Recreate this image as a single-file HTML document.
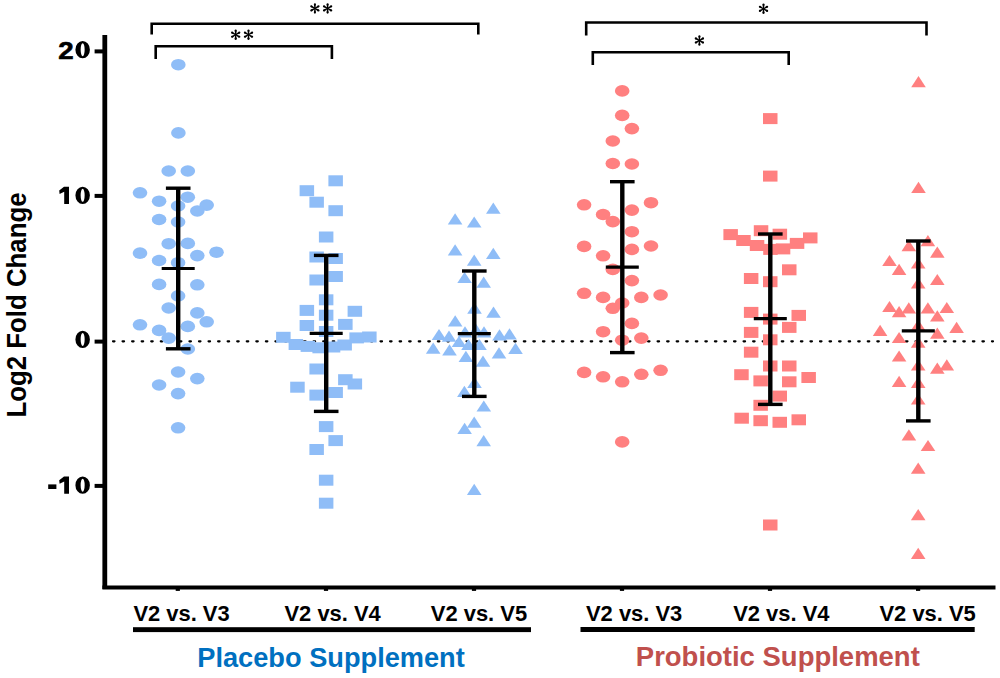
<!DOCTYPE html>
<html><head><meta charset="utf-8"><style>
html,body{margin:0;padding:0;background:#fff;}
svg{display:block;}
text{font-family:"Liberation Sans",sans-serif;font-weight:bold;}
.tk{font-size:24.3px;}
.yl{font-size:25.6px;}
.xl{font-size:21.8px;}
.gl{font-size:27px;}
</style></head><body>
<svg width="1000" height="678" viewBox="0 0 1000 678">
<line x1="113.0" y1="341.3" x2="993.0" y2="341.3" stroke="#000" stroke-width="2.2" stroke-linecap="round" stroke-dasharray="1.5 8.054"/>
<ellipse cx="178.3" cy="64.7" rx="7.3" ry="5.8" fill="#8fbdf7"/>
<ellipse cx="178.4" cy="132.9" rx="7.3" ry="5.8" fill="#8fbdf7"/>
<ellipse cx="168.7" cy="171.0" rx="7.3" ry="5.8" fill="#8fbdf7"/>
<ellipse cx="187.8" cy="171.0" rx="7.3" ry="5.8" fill="#8fbdf7"/>
<ellipse cx="140.0" cy="192.8" rx="7.3" ry="5.8" fill="#8fbdf7"/>
<ellipse cx="159.1" cy="201.2" rx="7.3" ry="5.8" fill="#8fbdf7"/>
<ellipse cx="187.8" cy="197.2" rx="7.3" ry="5.8" fill="#8fbdf7"/>
<ellipse cx="178.1" cy="206.0" rx="7.3" ry="5.8" fill="#8fbdf7"/>
<ellipse cx="206.7" cy="205.1" rx="7.3" ry="5.8" fill="#8fbdf7"/>
<ellipse cx="197.3" cy="211.0" rx="7.3" ry="5.8" fill="#8fbdf7"/>
<ellipse cx="159.1" cy="219.5" rx="7.3" ry="5.8" fill="#8fbdf7"/>
<ellipse cx="178.1" cy="222.0" rx="7.3" ry="5.8" fill="#8fbdf7"/>
<ellipse cx="168.7" cy="243.7" rx="7.3" ry="5.8" fill="#8fbdf7"/>
<ellipse cx="187.8" cy="243.4" rx="7.3" ry="5.8" fill="#8fbdf7"/>
<ellipse cx="140.0" cy="253.1" rx="7.3" ry="5.8" fill="#8fbdf7"/>
<ellipse cx="216.5" cy="252.2" rx="7.3" ry="5.8" fill="#8fbdf7"/>
<ellipse cx="197.3" cy="255.6" rx="7.3" ry="5.8" fill="#8fbdf7"/>
<ellipse cx="159.1" cy="260.5" rx="7.3" ry="5.8" fill="#8fbdf7"/>
<ellipse cx="178.1" cy="262.7" rx="7.3" ry="5.8" fill="#8fbdf7"/>
<ellipse cx="159.1" cy="284.4" rx="7.3" ry="5.8" fill="#8fbdf7"/>
<ellipse cx="197.3" cy="284.8" rx="7.3" ry="5.8" fill="#8fbdf7"/>
<ellipse cx="178.1" cy="295.9" rx="7.3" ry="5.8" fill="#8fbdf7"/>
<ellipse cx="168.7" cy="308.0" rx="7.3" ry="5.8" fill="#8fbdf7"/>
<ellipse cx="197.3" cy="312.9" rx="7.3" ry="5.8" fill="#8fbdf7"/>
<ellipse cx="206.7" cy="321.8" rx="7.3" ry="5.8" fill="#8fbdf7"/>
<ellipse cx="140.0" cy="324.8" rx="7.3" ry="5.8" fill="#8fbdf7"/>
<ellipse cx="187.8" cy="326.4" rx="7.3" ry="5.8" fill="#8fbdf7"/>
<ellipse cx="159.1" cy="330.4" rx="7.3" ry="5.8" fill="#8fbdf7"/>
<ellipse cx="168.7" cy="338.1" rx="7.3" ry="5.8" fill="#8fbdf7"/>
<ellipse cx="187.8" cy="349.0" rx="7.3" ry="5.8" fill="#8fbdf7"/>
<ellipse cx="178.1" cy="372.0" rx="7.3" ry="5.8" fill="#8fbdf7"/>
<ellipse cx="197.3" cy="378.6" rx="7.3" ry="5.8" fill="#8fbdf7"/>
<ellipse cx="159.1" cy="385.0" rx="7.3" ry="5.8" fill="#8fbdf7"/>
<ellipse cx="178.1" cy="393.6" rx="7.3" ry="5.8" fill="#8fbdf7"/>
<ellipse cx="178.1" cy="427.8" rx="7.3" ry="5.8" fill="#8fbdf7"/>
<rect x="328.4" y="175.3" width="14.5" height="11.0" fill="#8fbdf7"/>
<rect x="299.6" y="185.2" width="14.5" height="11.0" fill="#8fbdf7"/>
<rect x="309.4" y="196.7" width="14.5" height="11.0" fill="#8fbdf7"/>
<rect x="328.4" y="205.2" width="14.5" height="11.0" fill="#8fbdf7"/>
<rect x="318.9" y="231.5" width="14.5" height="11.0" fill="#8fbdf7"/>
<rect x="309.4" y="251.5" width="14.5" height="11.0" fill="#8fbdf7"/>
<rect x="328.4" y="253.0" width="14.5" height="11.0" fill="#8fbdf7"/>
<rect x="328.4" y="271.0" width="14.5" height="11.0" fill="#8fbdf7"/>
<rect x="309.4" y="274.5" width="14.5" height="11.0" fill="#8fbdf7"/>
<rect x="318.9" y="294.3" width="14.5" height="11.0" fill="#8fbdf7"/>
<rect x="299.6" y="304.9" width="14.5" height="11.0" fill="#8fbdf7"/>
<rect x="347.6" y="305.8" width="14.5" height="11.0" fill="#8fbdf7"/>
<rect x="318.9" y="309.7" width="14.5" height="11.0" fill="#8fbdf7"/>
<rect x="299.6" y="320.0" width="14.5" height="11.0" fill="#8fbdf7"/>
<rect x="338.1" y="318.9" width="14.5" height="11.0" fill="#8fbdf7"/>
<rect x="318.9" y="326.0" width="14.5" height="11.0" fill="#8fbdf7"/>
<rect x="276.1" y="331.8" width="14.5" height="11.0" fill="#8fbdf7"/>
<rect x="288.6" y="339.0" width="14.5" height="11.0" fill="#8fbdf7"/>
<rect x="300.6" y="340.9" width="14.5" height="11.0" fill="#8fbdf7"/>
<rect x="312.4" y="342.3" width="14.5" height="11.0" fill="#8fbdf7"/>
<rect x="325.8" y="341.5" width="14.5" height="11.0" fill="#8fbdf7"/>
<rect x="337.4" y="339.5" width="14.5" height="11.0" fill="#8fbdf7"/>
<rect x="349.4" y="332.4" width="14.5" height="11.0" fill="#8fbdf7"/>
<rect x="362.1" y="331.5" width="14.5" height="11.0" fill="#8fbdf7"/>
<rect x="309.4" y="363.5" width="14.5" height="11.0" fill="#8fbdf7"/>
<rect x="338.1" y="374.2" width="14.5" height="11.0" fill="#8fbdf7"/>
<rect x="347.6" y="378.5" width="14.5" height="11.0" fill="#8fbdf7"/>
<rect x="290.2" y="381.7" width="14.5" height="11.0" fill="#8fbdf7"/>
<rect x="328.4" y="387.0" width="14.5" height="11.0" fill="#8fbdf7"/>
<rect x="309.4" y="389.6" width="14.5" height="11.0" fill="#8fbdf7"/>
<rect x="318.9" y="421.1" width="14.5" height="11.0" fill="#8fbdf7"/>
<rect x="328.4" y="435.1" width="14.5" height="11.0" fill="#8fbdf7"/>
<rect x="309.4" y="444.0" width="14.5" height="11.0" fill="#8fbdf7"/>
<rect x="318.9" y="474.7" width="14.5" height="11.0" fill="#8fbdf7"/>
<rect x="318.9" y="497.7" width="14.5" height="11.0" fill="#8fbdf7"/>
<polygon points="493.3,202.5 500.6,213.7 486.0,213.7" fill="#8fbdf7"/>
<polygon points="455.1,213.3 462.4,224.5 447.8,224.5" fill="#8fbdf7"/>
<polygon points="474.2,216.4 481.5,227.6 466.9,227.6" fill="#8fbdf7"/>
<polygon points="455.1,244.3 462.4,255.5 447.8,255.5" fill="#8fbdf7"/>
<polygon points="493.3,247.8 500.6,259.0 486.0,259.0" fill="#8fbdf7"/>
<polygon points="474.2,254.5 481.5,265.7 466.9,265.7" fill="#8fbdf7"/>
<polygon points="464.6,271.9 471.9,283.1 457.3,283.1" fill="#8fbdf7"/>
<polygon points="483.7,276.5 491.0,287.7 476.4,287.7" fill="#8fbdf7"/>
<polygon points="474.5,302.6 481.8,313.8 467.2,313.8" fill="#8fbdf7"/>
<polygon points="493.5,306.5 500.8,317.7 486.2,317.7" fill="#8fbdf7"/>
<polygon points="455.2,315.2 462.5,326.4 447.9,326.4" fill="#8fbdf7"/>
<polygon points="439.0,328.9 446.3,340.1 431.7,340.1" fill="#8fbdf7"/>
<polygon points="449.0,330.6 456.3,341.8 441.7,341.8" fill="#8fbdf7"/>
<polygon points="465.0,326.2 472.3,337.4 457.7,337.4" fill="#8fbdf7"/>
<polygon points="476.0,323.7 483.3,334.9 468.7,334.9" fill="#8fbdf7"/>
<polygon points="484.0,326.2 491.3,337.4 476.7,337.4" fill="#8fbdf7"/>
<polygon points="499.5,329.2 506.8,340.4 492.2,340.4" fill="#8fbdf7"/>
<polygon points="509.5,328.2 516.8,339.4 502.2,339.4" fill="#8fbdf7"/>
<polygon points="433.2,342.6 440.5,353.8 425.9,353.8" fill="#8fbdf7"/>
<polygon points="449.5,344.2 456.8,355.4 442.2,355.4" fill="#8fbdf7"/>
<polygon points="459.0,335.9 466.3,347.1 451.7,347.1" fill="#8fbdf7"/>
<polygon points="468.5,338.9 475.8,350.1 461.2,350.1" fill="#8fbdf7"/>
<polygon points="479.5,338.9 486.8,350.1 472.2,350.1" fill="#8fbdf7"/>
<polygon points="499.0,347.2 506.3,358.4 491.7,358.4" fill="#8fbdf7"/>
<polygon points="515.5,342.8 522.8,354.0 508.2,354.0" fill="#8fbdf7"/>
<polygon points="465.9,350.8 473.2,362.0 458.6,362.0" fill="#8fbdf7"/>
<polygon points="483.0,355.6 490.3,366.8 475.7,366.8" fill="#8fbdf7"/>
<polygon points="474.5,376.9 481.8,388.1 467.2,388.1" fill="#8fbdf7"/>
<polygon points="464.4,385.7 471.7,396.9 457.1,396.9" fill="#8fbdf7"/>
<polygon points="483.8,400.4 491.1,411.6 476.5,411.6" fill="#8fbdf7"/>
<polygon points="474.2,416.5 481.5,427.7 466.9,427.7" fill="#8fbdf7"/>
<polygon points="464.6,422.7 471.9,433.9 457.3,433.9" fill="#8fbdf7"/>
<polygon points="483.7,435.1 491.0,446.3 476.4,446.3" fill="#8fbdf7"/>
<polygon points="474.2,483.8 481.5,495.0 466.9,495.0" fill="#8fbdf7"/>
<ellipse cx="622.2" cy="90.9" rx="7.3" ry="5.8" fill="#ff8080"/>
<ellipse cx="622.2" cy="115.4" rx="7.3" ry="5.8" fill="#ff8080"/>
<ellipse cx="631.9" cy="128.6" rx="7.3" ry="5.8" fill="#ff8080"/>
<ellipse cx="612.8" cy="141.0" rx="7.3" ry="5.8" fill="#ff8080"/>
<ellipse cx="612.8" cy="163.5" rx="7.3" ry="5.8" fill="#ff8080"/>
<ellipse cx="631.9" cy="164.0" rx="7.3" ry="5.8" fill="#ff8080"/>
<ellipse cx="651.0" cy="202.7" rx="7.3" ry="5.8" fill="#ff8080"/>
<ellipse cx="584.1" cy="204.8" rx="7.3" ry="5.8" fill="#ff8080"/>
<ellipse cx="631.9" cy="210.1" rx="7.3" ry="5.8" fill="#ff8080"/>
<ellipse cx="603.1" cy="214.5" rx="7.3" ry="5.8" fill="#ff8080"/>
<ellipse cx="612.8" cy="221.6" rx="7.3" ry="5.8" fill="#ff8080"/>
<ellipse cx="631.9" cy="231.7" rx="7.3" ry="5.8" fill="#ff8080"/>
<ellipse cx="651.0" cy="246.0" rx="7.3" ry="5.8" fill="#ff8080"/>
<ellipse cx="584.1" cy="246.4" rx="7.3" ry="5.8" fill="#ff8080"/>
<ellipse cx="631.9" cy="249.4" rx="7.3" ry="5.8" fill="#ff8080"/>
<ellipse cx="603.1" cy="255.8" rx="7.3" ry="5.8" fill="#ff8080"/>
<ellipse cx="612.8" cy="269.4" rx="7.3" ry="5.8" fill="#ff8080"/>
<ellipse cx="631.9" cy="280.6" rx="7.3" ry="5.8" fill="#ff8080"/>
<ellipse cx="584.1" cy="293.3" rx="7.3" ry="5.8" fill="#ff8080"/>
<ellipse cx="660.6" cy="295.0" rx="7.3" ry="5.8" fill="#ff8080"/>
<ellipse cx="603.1" cy="297.4" rx="7.3" ry="5.8" fill="#ff8080"/>
<ellipse cx="641.3" cy="297.4" rx="7.3" ry="5.8" fill="#ff8080"/>
<ellipse cx="622.2" cy="303.0" rx="7.3" ry="5.8" fill="#ff8080"/>
<ellipse cx="612.8" cy="308.3" rx="7.3" ry="5.8" fill="#ff8080"/>
<ellipse cx="631.9" cy="323.4" rx="7.3" ry="5.8" fill="#ff8080"/>
<ellipse cx="603.1" cy="331.7" rx="7.3" ry="5.8" fill="#ff8080"/>
<ellipse cx="641.3" cy="338.1" rx="7.3" ry="5.8" fill="#ff8080"/>
<ellipse cx="622.2" cy="340.2" rx="7.3" ry="5.8" fill="#ff8080"/>
<ellipse cx="660.6" cy="370.3" rx="7.3" ry="5.8" fill="#ff8080"/>
<ellipse cx="584.1" cy="372.4" rx="7.3" ry="5.8" fill="#ff8080"/>
<ellipse cx="641.3" cy="374.3" rx="7.3" ry="5.8" fill="#ff8080"/>
<ellipse cx="603.1" cy="376.8" rx="7.3" ry="5.8" fill="#ff8080"/>
<ellipse cx="622.2" cy="381.8" rx="7.3" ry="5.8" fill="#ff8080"/>
<ellipse cx="622.2" cy="441.9" rx="7.3" ry="5.8" fill="#ff8080"/>
<rect x="763.0" y="113.1" width="14.5" height="11.0" fill="#ff8080"/>
<rect x="763.0" y="170.6" width="14.5" height="11.0" fill="#ff8080"/>
<rect x="723.4" y="229.1" width="14.5" height="11.0" fill="#ff8080"/>
<rect x="736.2" y="235.0" width="14.5" height="11.0" fill="#ff8080"/>
<rect x="749.8" y="240.0" width="14.5" height="11.0" fill="#ff8080"/>
<rect x="763.2" y="243.9" width="14.5" height="11.0" fill="#ff8080"/>
<rect x="775.8" y="243.4" width="14.5" height="11.0" fill="#ff8080"/>
<rect x="789.8" y="237.9" width="14.5" height="11.0" fill="#ff8080"/>
<rect x="803.0" y="232.4" width="14.5" height="11.0" fill="#ff8080"/>
<rect x="753.8" y="225.2" width="14.5" height="11.0" fill="#ff8080"/>
<rect x="772.6" y="228.7" width="14.5" height="11.0" fill="#ff8080"/>
<rect x="782.0" y="264.3" width="14.5" height="11.0" fill="#ff8080"/>
<rect x="743.9" y="273.0" width="14.5" height="11.0" fill="#ff8080"/>
<rect x="763.0" y="276.2" width="14.5" height="11.0" fill="#ff8080"/>
<rect x="743.9" y="306.9" width="14.5" height="11.0" fill="#ff8080"/>
<rect x="791.5" y="309.9" width="14.5" height="11.0" fill="#ff8080"/>
<rect x="763.0" y="313.6" width="14.5" height="11.0" fill="#ff8080"/>
<rect x="782.0" y="321.9" width="14.5" height="11.0" fill="#ff8080"/>
<rect x="743.9" y="326.9" width="14.5" height="11.0" fill="#ff8080"/>
<rect x="763.0" y="334.3" width="14.5" height="11.0" fill="#ff8080"/>
<rect x="743.9" y="346.7" width="14.5" height="11.0" fill="#ff8080"/>
<rect x="763.0" y="360.5" width="14.5" height="11.0" fill="#ff8080"/>
<rect x="782.0" y="360.5" width="14.5" height="11.0" fill="#ff8080"/>
<rect x="734.2" y="369.2" width="14.5" height="11.0" fill="#ff8080"/>
<rect x="753.4" y="375.4" width="14.5" height="11.0" fill="#ff8080"/>
<rect x="782.0" y="376.3" width="14.5" height="11.0" fill="#ff8080"/>
<rect x="801.4" y="372.0" width="14.5" height="11.0" fill="#ff8080"/>
<rect x="772.5" y="390.6" width="14.5" height="11.0" fill="#ff8080"/>
<rect x="753.4" y="399.8" width="14.5" height="11.0" fill="#ff8080"/>
<rect x="734.4" y="412.7" width="14.5" height="11.0" fill="#ff8080"/>
<rect x="753.4" y="415.2" width="14.5" height="11.0" fill="#ff8080"/>
<rect x="772.5" y="416.8" width="14.5" height="11.0" fill="#ff8080"/>
<rect x="791.5" y="414.3" width="14.5" height="11.0" fill="#ff8080"/>
<rect x="763.0" y="519.5" width="14.5" height="11.0" fill="#ff8080"/>
<polygon points="918.5,76.1 925.8,87.3 911.2,87.3" fill="#ff8080"/>
<polygon points="918.5,181.7 925.8,192.9 911.2,192.9" fill="#ff8080"/>
<polygon points="927.9,235.0 935.2,246.2 920.6,246.2" fill="#ff8080"/>
<polygon points="908.8,240.1 916.1,251.3 901.5,251.3" fill="#ff8080"/>
<polygon points="937.3,246.5 944.6,257.7 930.0,257.7" fill="#ff8080"/>
<polygon points="889.5,254.9 896.8,266.1 882.2,266.1" fill="#ff8080"/>
<polygon points="918.2,257.4 925.5,268.6 910.9,268.6" fill="#ff8080"/>
<polygon points="899.1,263.7 906.4,274.9 891.8,274.9" fill="#ff8080"/>
<polygon points="937.3,273.9 944.6,285.1 930.0,285.1" fill="#ff8080"/>
<polygon points="918.2,277.4 925.5,288.6 910.9,288.6" fill="#ff8080"/>
<polygon points="889.5,300.9 896.8,312.1 882.2,312.1" fill="#ff8080"/>
<polygon points="908.8,302.3 916.1,313.5 901.5,313.5" fill="#ff8080"/>
<polygon points="927.9,302.3 935.2,313.5 920.6,313.5" fill="#ff8080"/>
<polygon points="946.8,301.9 954.1,313.1 939.5,313.1" fill="#ff8080"/>
<polygon points="899.1,306.0 906.4,317.2 891.8,317.2" fill="#ff8080"/>
<polygon points="937.3,310.2 944.6,321.4 930.0,321.4" fill="#ff8080"/>
<polygon points="918.2,319.4 925.5,330.6 910.9,330.6" fill="#ff8080"/>
<polygon points="956.6,321.8 963.9,333.0 949.3,333.0" fill="#ff8080"/>
<polygon points="880.1,324.8 887.4,336.0 872.8,336.0" fill="#ff8080"/>
<polygon points="937.3,327.5 944.6,338.7 930.0,338.7" fill="#ff8080"/>
<polygon points="899.1,331.9 906.4,343.1 891.8,343.1" fill="#ff8080"/>
<polygon points="918.2,336.6 925.5,347.8 910.9,347.8" fill="#ff8080"/>
<polygon points="899.1,350.4 906.4,361.6 891.8,361.6" fill="#ff8080"/>
<polygon points="946.8,359.3 954.1,370.5 939.5,370.5" fill="#ff8080"/>
<polygon points="918.2,359.4 925.5,370.6 910.9,370.6" fill="#ff8080"/>
<polygon points="937.3,362.6 944.6,373.8 930.0,373.8" fill="#ff8080"/>
<polygon points="899.1,375.7 906.4,386.9 891.8,386.9" fill="#ff8080"/>
<polygon points="918.2,376.7 925.5,387.9 910.9,387.9" fill="#ff8080"/>
<polygon points="918.2,393.4 925.5,404.6 910.9,404.6" fill="#ff8080"/>
<polygon points="908.9,429.2 916.2,440.4 901.6,440.4" fill="#ff8080"/>
<polygon points="928.0,439.9 935.3,451.1 920.7,451.1" fill="#ff8080"/>
<polygon points="918.2,462.6 925.5,473.8 910.9,473.8" fill="#ff8080"/>
<polygon points="918.2,509.0 925.5,520.2 910.9,520.2" fill="#ff8080"/>
<polygon points="918.2,547.7 925.5,558.9 910.9,558.9" fill="#ff8080"/>
<line x1="178.2" y1="188.2" x2="178.2" y2="348.8" stroke="#000" stroke-width="4.4"/>
<line x1="165.89999999999998" y1="188.2" x2="190.5" y2="188.2" stroke="#000" stroke-width="3.4"/>
<line x1="165.89999999999998" y1="348.8" x2="190.5" y2="348.8" stroke="#000" stroke-width="3.4"/>
<line x1="161.7" y1="268.5" x2="194.7" y2="268.5" stroke="#000" stroke-width="3.2"/>
<line x1="326.2" y1="255.4" x2="326.2" y2="411.4" stroke="#000" stroke-width="4.4"/>
<line x1="313.9" y1="255.4" x2="338.5" y2="255.4" stroke="#000" stroke-width="3.4"/>
<line x1="313.9" y1="411.4" x2="338.5" y2="411.4" stroke="#000" stroke-width="3.4"/>
<line x1="309.7" y1="333.4" x2="342.7" y2="333.4" stroke="#000" stroke-width="3.2"/>
<line x1="474.3" y1="271.0" x2="474.3" y2="396.4" stroke="#000" stroke-width="4.4"/>
<line x1="462.0" y1="271.0" x2="486.6" y2="271.0" stroke="#000" stroke-width="3.4"/>
<line x1="462.0" y1="396.4" x2="486.6" y2="396.4" stroke="#000" stroke-width="3.4"/>
<line x1="457.8" y1="333.7" x2="490.8" y2="333.7" stroke="#000" stroke-width="3.2"/>
<line x1="622.3" y1="181.7" x2="622.3" y2="352.6" stroke="#000" stroke-width="4.4"/>
<line x1="610.0" y1="181.7" x2="634.5999999999999" y2="181.7" stroke="#000" stroke-width="3.4"/>
<line x1="610.0" y1="352.6" x2="634.5999999999999" y2="352.6" stroke="#000" stroke-width="3.4"/>
<line x1="605.8" y1="267.1" x2="638.8" y2="267.1" stroke="#000" stroke-width="3.2"/>
<line x1="770.3" y1="234.0" x2="770.3" y2="404.4" stroke="#000" stroke-width="4.4"/>
<line x1="758.0" y1="234.0" x2="782.5999999999999" y2="234.0" stroke="#000" stroke-width="3.4"/>
<line x1="758.0" y1="404.4" x2="782.5999999999999" y2="404.4" stroke="#000" stroke-width="3.4"/>
<line x1="753.8" y1="318.7" x2="786.8" y2="318.7" stroke="#000" stroke-width="3.2"/>
<line x1="918.3" y1="241.0" x2="918.3" y2="420.9" stroke="#000" stroke-width="4.4"/>
<line x1="906.0" y1="241.0" x2="930.5999999999999" y2="241.0" stroke="#000" stroke-width="3.4"/>
<line x1="906.0" y1="420.9" x2="930.5999999999999" y2="420.9" stroke="#000" stroke-width="3.4"/>
<line x1="901.8" y1="330.9" x2="934.8" y2="330.9" stroke="#000" stroke-width="3.2"/>
<line x1="104.8" y1="35" x2="104.8" y2="589" stroke="#000" stroke-width="4.8"/>
<line x1="102.4" y1="587.6" x2="995.5" y2="587.6" stroke="#000" stroke-width="4.0"/>
<line x1="94.6" y1="51.4" x2="104" y2="51.4" stroke="#000" stroke-width="4"/>
<line x1="94.6" y1="195.9" x2="104" y2="195.9" stroke="#000" stroke-width="4"/>
<line x1="94.6" y1="341.6" x2="104" y2="341.6" stroke="#000" stroke-width="4"/>
<line x1="94.6" y1="485.9" x2="104" y2="485.9" stroke="#000" stroke-width="4"/>
<line x1="177.8" y1="589" x2="177.8" y2="590.9" stroke="#000" stroke-width="4.2"/>
<line x1="326.0" y1="589" x2="326.0" y2="590.9" stroke="#000" stroke-width="4.2"/>
<line x1="474.0" y1="589" x2="474.0" y2="590.9" stroke="#000" stroke-width="4.2"/>
<line x1="622.0" y1="589" x2="622.0" y2="590.9" stroke="#000" stroke-width="4.2"/>
<line x1="770.0" y1="589" x2="770.0" y2="590.9" stroke="#000" stroke-width="4.2"/>
<line x1="918.1" y1="589" x2="918.1" y2="590.9" stroke="#000" stroke-width="4.2"/>
<text x="0" y="0" transform="translate(73.6,58.5) scale(1.14,1)" text-anchor="end" class="tk" stroke="#000" stroke-width="0.6">2</text>
<path fill-rule="evenodd" fill="#000" d="M75.4 49.7a7.25 8.65 0 1 0 14.5 0a7.25 8.65 0 1 0 -14.5 0zM80.65 49.7a2.0 6.5 0 1 0 4.0 0a2.0 6.5 0 1 0 -4.0 0z"/>
<path fill-rule="evenodd" fill="#000" d="M75.4 195.3a7.25 8.65 0 1 0 14.5 0a7.25 8.65 0 1 0 -14.5 0zM80.65 195.3a2.0 6.5 0 1 0 4.0 0a2.0 6.5 0 1 0 -4.0 0z"/>
<path fill-rule="evenodd" fill="#000" d="M75.4 339.4a7.25 8.65 0 1 0 14.5 0a7.25 8.65 0 1 0 -14.5 0zM80.65 339.4a2.0 6.5 0 1 0 4.0 0a2.0 6.5 0 1 0 -4.0 0z"/>
<path fill-rule="evenodd" fill="#000" d="M75.4 485.2a7.25 8.65 0 1 0 14.5 0a7.25 8.65 0 1 0 -14.5 0zM80.65 485.2a2.0 6.5 0 1 0 4.0 0a2.0 6.5 0 1 0 -4.0 0z"/>
<polygon points="69.0,186.7 64.0,186.7 59.2,190.4 59.6,193.9 64.2,191.7 64.2,203.9 69.0,203.9" fill="#000"/>
<polygon points="69.0,476.5 64.0,476.5 59.2,480.2 59.6,483.7 64.2,481.5 64.2,493.7 69.0,493.7" fill="#000"/>
<rect x="48.2" y="484.4" width="8.2" height="4.6" fill="#000"/>
<text x="0" y="0" transform="translate(26.3,417.5) rotate(-90) scale(1,1.09)" class="yl" textLength="225" lengthAdjust="spacingAndGlyphs">Log2 Fold Change</text>
<path d="M151.7 34.4 V23.8 H478.3 V34.4" stroke="#000" stroke-width="2.6" fill="none"/>
<path d="M155.7 59 V46.2 H331.9 V59" stroke="#000" stroke-width="2.6" fill="none"/>
<path d="M586.2 35.6 V22.5 H926.5 V35.6" stroke="#000" stroke-width="2.6" fill="none"/>
<path d="M592.8 65 V52.2 H788.7 V65" stroke="#000" stroke-width="2.6" fill="none"/>
<polygon points="235.25,34.70 234.65,38.90 236.75,38.90 236.15,34.70" fill="#000"/><circle cx="235.70" cy="38.90" r="1.05" fill="#000"/><polygon points="236.15,34.70 236.75,30.50 234.65,30.50 235.25,34.70" fill="#000"/><circle cx="235.70" cy="30.50" r="1.05" fill="#000"/><polygon points="235.47,35.09 238.81,37.71 239.86,35.89 235.92,34.31" fill="#000"/><circle cx="239.34" cy="36.80" r="1.05" fill="#000"/><polygon points="235.47,34.31 231.54,35.89 232.59,37.71 235.92,35.09" fill="#000"/><circle cx="232.06" cy="36.80" r="1.05" fill="#000"/><polygon points="235.92,34.31 232.59,31.69 231.54,33.51 235.47,35.09" fill="#000"/><circle cx="232.06" cy="32.60" r="1.05" fill="#000"/><polygon points="235.92,35.09 239.86,33.51 238.81,31.69 235.47,34.31" fill="#000"/><circle cx="239.34" cy="32.60" r="1.05" fill="#000"/><circle cx="235.7" cy="34.7" r="1.1" fill="#000"/>
<polygon points="248.05,34.70 247.45,38.90 249.55,38.90 248.95,34.70" fill="#000"/><circle cx="248.50" cy="38.90" r="1.05" fill="#000"/><polygon points="248.95,34.70 249.55,30.50 247.45,30.50 248.05,34.70" fill="#000"/><circle cx="248.50" cy="30.50" r="1.05" fill="#000"/><polygon points="248.28,35.09 251.61,37.71 252.66,35.89 248.72,34.31" fill="#000"/><circle cx="252.14" cy="36.80" r="1.05" fill="#000"/><polygon points="248.28,34.31 244.34,35.89 245.39,37.71 248.72,35.09" fill="#000"/><circle cx="244.86" cy="36.80" r="1.05" fill="#000"/><polygon points="248.72,34.31 245.39,31.69 244.34,33.51 248.28,35.09" fill="#000"/><circle cx="244.86" cy="32.60" r="1.05" fill="#000"/><polygon points="248.72,35.09 252.66,33.51 251.61,31.69 248.28,34.31" fill="#000"/><circle cx="252.14" cy="32.60" r="1.05" fill="#000"/><circle cx="248.5" cy="34.7" r="1.1" fill="#000"/>
<polygon points="314.45,8.40 313.85,12.60 315.95,12.60 315.35,8.40" fill="#000"/><circle cx="314.90" cy="12.60" r="1.05" fill="#000"/><polygon points="315.35,8.40 315.95,4.20 313.85,4.20 314.45,8.40" fill="#000"/><circle cx="314.90" cy="4.20" r="1.05" fill="#000"/><polygon points="314.67,8.79 318.01,11.41 319.06,9.59 315.12,8.01" fill="#000"/><circle cx="318.54" cy="10.50" r="1.05" fill="#000"/><polygon points="314.67,8.01 310.74,9.59 311.79,11.41 315.12,8.79" fill="#000"/><circle cx="311.26" cy="10.50" r="1.05" fill="#000"/><polygon points="315.12,8.01 311.79,5.39 310.74,7.21 314.67,8.79" fill="#000"/><circle cx="311.26" cy="6.30" r="1.05" fill="#000"/><polygon points="315.12,8.79 319.06,7.21 318.01,5.39 314.67,8.01" fill="#000"/><circle cx="318.54" cy="6.30" r="1.05" fill="#000"/><circle cx="314.9" cy="8.4" r="1.1" fill="#000"/>
<polygon points="327.15,8.40 326.55,12.60 328.65,12.60 328.05,8.40" fill="#000"/><circle cx="327.60" cy="12.60" r="1.05" fill="#000"/><polygon points="328.05,8.40 328.65,4.20 326.55,4.20 327.15,8.40" fill="#000"/><circle cx="327.60" cy="4.20" r="1.05" fill="#000"/><polygon points="327.38,8.79 330.71,11.41 331.76,9.59 327.83,8.01" fill="#000"/><circle cx="331.24" cy="10.50" r="1.05" fill="#000"/><polygon points="327.38,8.01 323.44,9.59 324.49,11.41 327.83,8.79" fill="#000"/><circle cx="323.96" cy="10.50" r="1.05" fill="#000"/><polygon points="327.83,8.01 324.49,5.39 323.44,7.21 327.38,8.79" fill="#000"/><circle cx="323.96" cy="6.30" r="1.05" fill="#000"/><polygon points="327.83,8.79 331.76,7.21 330.71,5.39 327.38,8.01" fill="#000"/><circle cx="331.24" cy="6.30" r="1.05" fill="#000"/><circle cx="327.6" cy="8.4" r="1.1" fill="#000"/>
<polygon points="698.95,40.50 698.35,44.70 700.45,44.70 699.85,40.50" fill="#000"/><circle cx="699.40" cy="44.70" r="1.05" fill="#000"/><polygon points="699.85,40.50 700.45,36.30 698.35,36.30 698.95,40.50" fill="#000"/><circle cx="699.40" cy="36.30" r="1.05" fill="#000"/><polygon points="699.17,40.89 702.51,43.51 703.56,41.69 699.62,40.11" fill="#000"/><circle cx="703.04" cy="42.60" r="1.05" fill="#000"/><polygon points="699.17,40.11 695.24,41.69 696.29,43.51 699.62,40.89" fill="#000"/><circle cx="695.76" cy="42.60" r="1.05" fill="#000"/><polygon points="699.62,40.11 696.29,37.49 695.24,39.31 699.17,40.89" fill="#000"/><circle cx="695.76" cy="38.40" r="1.05" fill="#000"/><polygon points="699.62,40.89 703.56,39.31 702.51,37.49 699.17,40.11" fill="#000"/><circle cx="703.04" cy="38.40" r="1.05" fill="#000"/><circle cx="699.4" cy="40.5" r="1.1" fill="#000"/>
<polygon points="763.05,8.80 762.45,13.00 764.55,13.00 763.95,8.80" fill="#000"/><circle cx="763.50" cy="13.00" r="1.05" fill="#000"/><polygon points="763.95,8.80 764.55,4.60 762.45,4.60 763.05,8.80" fill="#000"/><circle cx="763.50" cy="4.60" r="1.05" fill="#000"/><polygon points="763.27,9.19 766.61,11.81 767.66,9.99 763.73,8.41" fill="#000"/><circle cx="767.14" cy="10.90" r="1.05" fill="#000"/><polygon points="763.27,8.41 759.34,9.99 760.39,11.81 763.73,9.19" fill="#000"/><circle cx="759.86" cy="10.90" r="1.05" fill="#000"/><polygon points="763.73,8.41 760.39,5.79 759.34,7.61 763.27,9.19" fill="#000"/><circle cx="759.86" cy="6.70" r="1.05" fill="#000"/><polygon points="763.73,9.19 767.66,7.61 766.61,5.79 763.27,8.41" fill="#000"/><circle cx="767.14" cy="6.70" r="1.05" fill="#000"/><circle cx="763.5" cy="8.8" r="1.1" fill="#000"/>
<text x="133.4" y="620.8" class="xl" textLength="96.3" lengthAdjust="spacingAndGlyphs">V2 vs. V3</text>
<text x="284.5" y="620.8" class="xl" textLength="96.3" lengthAdjust="spacingAndGlyphs">V2 vs. V4</text>
<text x="430.8" y="620.8" class="xl" textLength="96.3" lengthAdjust="spacingAndGlyphs">V2 vs. V5</text>
<text x="586.0" y="620.8" class="xl" textLength="96.3" lengthAdjust="spacingAndGlyphs">V2 vs. V3</text>
<text x="733.2" y="620.8" class="xl" textLength="96.3" lengthAdjust="spacingAndGlyphs">V2 vs. V4</text>
<text x="879.5" y="620.8" class="xl" textLength="96.3" lengthAdjust="spacingAndGlyphs">V2 vs. V5</text>
<rect x="133" y="627.2" width="398" height="4.9" fill="#000"/>
<rect x="580.5" y="627" width="394.2" height="5" fill="#000"/>
<text x="197.3" y="667.0" class="gl" fill="#0070c0" textLength="267.5" lengthAdjust="spacingAndGlyphs">Placebo Supplement</text>
<text x="635.8" y="666.4" class="gl" fill="#c0504d" textLength="284" lengthAdjust="spacingAndGlyphs">Probiotic Supplement</text>
</svg>
</body></html>
